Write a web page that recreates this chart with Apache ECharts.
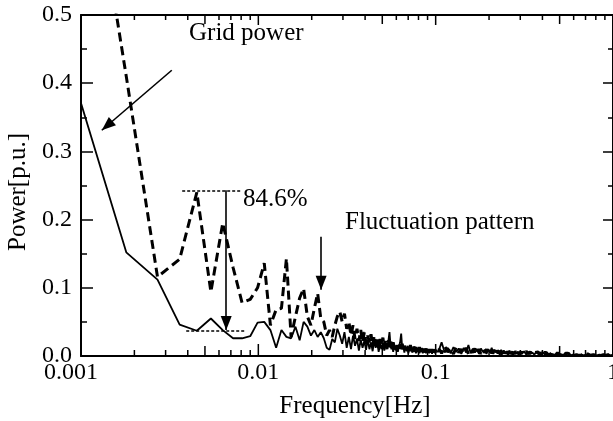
<!DOCTYPE html>
<html><head><meta charset="utf-8">
<script src="https://cdn.jsdelivr.net/npm/echarts@6/dist/echarts.min.js"></script>
<style>html,body{margin:0;padding:0;background:#fff}#c{width:613px;height:421px}</style>
</head><body><div id="c"></div>
<script>
// Frequency bins (Hz): low band every 0.0009 Hz, then coarser sampling of the dense tail
const lowStep = 0.0009, lowCount = 111;
const midStart = 0.1035, midStep = 0.0045, midCount = 44;
const highStart = 0.306, highStep = 0.009, highCount = 78;

// Fluctuation pattern spectrum (dashed)
const dashedLow = [0.9,0.41,0.116,0.142,0.24,0.094,0.195,0.13,0.078,0.083,0.10,0.136,0.045,0.068,0.07,0.143,0.028,0.058,0.085,0.099,0.058,0.045,0.07,0.092,0.055,
0.05,0.03,0.038,0.028,0.045,0.058,0.065,0.05,0.062,0.04,0.05,0.03,0.045,0.025,0.04,0.022,0.038,0.02,0.035,0.018,0.03,0.02,0.032,0.015,0.03,
0.018,0.028,0.012,0.025,0.015,0.027,0.012,0.022,0.01,0.025,0.013,0.022,0.01,0.02,0.012,0.018,0.008,0.02,0.011,0.017,0.009,0.018,0.008,0.015,0.01,
0.016,0.007,0.014,0.009,0.016,0.008,0.013,0.006,0.014,0.009,0.013,0.006,0.012,0.008,0.013,0.006,0.012,0.007,0.011,0.006,0.012,0.005,0.011,0.007,0.012,
0.005,0.01,0.006,0.011,0.005,0.01,0.006,0.011,0.005,0.009,0.006];
const dashedMid = [0.012,0.004,0.014,0.006,0.011,0.003,0.013,0.005,0.010,0.004,
0.012,0.003,0.009,0.005,0.011,0.004,0.010,0.003,0.009,0.005,
0.010,0.003,0.008,0.004,0.009,0.003,0.008,0.004,0.009,0.002,
0.007,0.004,0.008,0.002,0.007,0.003,0.008,0.002,0.006,0.003,
0.007,0.002,0.006,0.003];
const dashedHigh = [0.006,0.002,0.007,0.003,0.006,0.002,0.005,0.003,0.006,0.002,
0.005,0.002,0.006,0.003,0.005,0.002,0.005,0.002,0.004,0.002,
0.005,0.002,0.004,0.002,0.005,0.001,0.004,0.002,0.004,0.001,
0.004,0.002,0.004,0.001,0.003,0.002,0.004,0.001,0.003,0.001,
0.003,0.002,0.003,0.001,0.003,0.001,0.003,0.002,0.003,0.001,
0.003,0.001,0.002,0.001,0.003,0.001,0.002,0.001,0.002,0.001,
0.002,0.001,0.002,0.001,0.002,0.001,0.002,0.001,0.002,0.001,
0.002,0.001,0.002,0.001,0.002,0.001,0.002,0.001];

// Grid power spectrum (solid)
const solidLow = [0.41,0.152,0.112,0.046,0.037,0.055,0.038,0.026,0.026,0.029,0.049,0.05,0.038,0.012,0.038,0.028,0.026,0.043,0.023,0.05,0.043,0.03,0.038,0.028,0.035,
0.026,0.012,0.009,0.025,0.02,0.04,0.03,0.018,0.035,0.012,0.028,0.01,0.03,0.015,0.025,0.008,0.024,0.012,0.022,0.009,0.024,0.01,0.02,0.007,0.022,
0.012,0.02,0.006,0.018,0.01,0.02,0.008,0.016,0.012,0.02,0.035,0.012,0.018,0.006,0.015,0.009,0.016,0.006,0.014,0.02,0.033,0.01,0.014,0.005,0.013,
0.008,0.015,0.004,0.012,0.007,0.014,0.005,0.012,0.006,0.013,0.004,0.011,0.006,0.012,0.004,0.01,0.006,0.012,0.004,0.009,0.005,0.011,0.004,0.009,0.006,
0.01,0.004,0.009,0.005,0.01,0.003,0.009,0.005,0.008,0.004,0.009];
const solidMid = [0.006,0.020,0.005,0.012,0.004,0.013,0.006,0.011,0.003,0.012,
0.005,0.016,0.004,0.011,0.005,0.010,0.003,0.011,0.006,0.009,
0.003,0.010,0.005,0.012,0.003,0.009,0.005,0.008,0.002,0.009,
0.004,0.008,0.003,0.007,0.002,0.008,0.004,0.007,0.002,0.007,
0.003,0.006,0.002,0.006];
const solidHigh = [0.003,0.007,0.002,0.006,0.003,0.005,0.002,0.006,0.003,0.005,
0.002,0.005,0.002,0.006,0.002,0.004,0.003,0.005,0.002,0.004,
0.002,0.005,0.002,0.004,0.002,0.004,0.001,0.004,0.002,0.004,
0.001,0.003,0.002,0.004,0.001,0.003,0.002,0.003,0.001,0.003,
0.002,0.003,0.001,0.003,0.002,0.003,0.001,0.002,0.001,0.003,
0.001,0.002,0.001,0.002,0.001,0.002,0.001,0.002,0.001,0.002,
0.001,0.002,0.001,0.002,0.001,0.002,0.001,0.002,0.001,0.002,
0.001,0.002,0.001,0.002,0.001,0.002,0.001,0.002];

const xTickLabels = ['0.001','0.01','0.1','1'];
const yTickLabels = ['0.0','0.1','0.2','0.3','0.4','0.5'];

function bins(start, step, n){ const a=[]; for(let i=0;i<n;i++) a.push(+(start+i*step).toFixed(6)); return a; }
const freqs = [].concat(bins(lowStep, lowStep, lowCount), bins(midStart, midStep, midCount), bins(highStart, highStep, highCount));
const dashed = [].concat(dashedLow, dashedMid, dashedHigh);
const solid = [].concat(solidLow, solidMid, solidHigh);
const pair = (vals) => freqs.map((f,i)=>[f, vals[i]]);

// log-axis tick positions: decades, 5x (medium), others minor
const xTicks = [];
for (let e=-3; e<=0; e++) for (let m=1; m<=9; m++) {
  const v = +(m*Math.pow(10,e)).toPrecision(3);
  if (v>1) break;
  xTicks.push([v, 0, m===1?0:(m===5?1:2)]);
}

const FONT = 'Liberation Serif';
const chart = echarts.init(document.getElementById('c'), null, {renderer:'canvas'});
const arrowEnd = (a, b) => [
  {coord:a, symbol:'none'},
  {coord:b, symbol:'triangle', symbolSize:[11,14], symbolOffset:[0,7]}
];
chart.setOption({
  animation:false,
  grid:{left:81, right:0, top:15, bottom:65, outerBoundsMode:'none'},
  xAxis:[{
    type:'log', logBase:10, min:0.001, max:1, position:'bottom',
    axisLine:{onZero:false, lineStyle:{color:'#000', width:2}},
    axisTick:{show:false}, splitLine:{show:false}, minorTick:{show:false},
    axisLabel:{color:'#000', fontFamily:FONT, fontSize:24, margin:5,
      formatter:(v)=>{
        const s = xTickLabels.find(t=>Math.abs(Math.log10(+t)-Math.log10(v))<1e-6) || '';
        return s===xTickLabels[0] ? '{m|'+s+'}' : s;
      },
      rich:{m:{fontFamily:FONT, fontSize:24, color:'#000', padding:[0,20,0,0]}}
    },
    name:'Frequency[Hz]', nameLocation:'middle', nameGap:38,
    nameTextStyle:{color:'#000', fontFamily:FONT, fontSize:25, padding:[0,0,0,16]}
  },{
    type:'log', logBase:10, min:0.001, max:1, position:'top',
    axisLine:{onZero:false, lineStyle:{color:'#000', width:2}},
    axisTick:{show:false}, axisLabel:{show:false}, splitLine:{show:false}
  }],
  yAxis:[{
    type:'value', min:0, max:0.5, interval:0.1,
    axisLine:{show:true, onZero:false, lineStyle:{color:'#000', width:2}},
    axisTick:{show:true, inside:true, length:12, lineStyle:{color:'#000', width:1.5}},
    minorTick:{show:true, splitNumber:2, length:6, lineStyle:{color:'#000', width:1.5}},
    splitLine:{show:false},
    axisLabel:{color:'#000', fontFamily:FONT, fontSize:24, margin:9,
      formatter:(v)=>yTickLabels[Math.round(v*10)]},
    name:'Power[p.u.]', nameLocation:'middle', nameGap:50,
    nameTextStyle:{color:'#000', fontFamily:FONT, fontSize:25, padding:[0,13,0,0]}
  },{
    type:'value', min:0, max:0.5, interval:0.1, position:'right',
    axisLine:{show:true, onZero:false, lineStyle:{color:'#000', width:2}},
    axisTick:{show:true, inside:true, length:10, lineStyle:{color:'#000', width:1.5}},
    minorTick:{show:true, splitNumber:2, length:5, lineStyle:{color:'#000', width:1.5}},
    splitLine:{show:false}, axisLabel:{show:false}
  }],
  series:[{
    type:'line', name:'Fluctuation pattern', data:pair(dashed), showSymbol:false, symbol:'none',
    clip:true, lineStyle:{color:'#000', width:3, type:[9,5]}
  },{
    type:'line', name:'Grid power', data:pair(solid), showSymbol:false, symbol:'none',
    clip:true, lineStyle:{color:'#000', width:1.8},
    markLine:{
      silent:true, animation:false, label:{show:false}, symbol:['none','none'],
      lineStyle:{color:'#000', width:1.6, type:'solid'},
      itemStyle:{color:'#000'},
      data:[
        arrowEnd([0.00325,0.419],[0.00131,0.331]),
        arrowEnd([0.00659,0.243],[0.00659,0.038]),
        arrowEnd([0.0226,0.175],[0.0226,0.097]),
        [{coord:[0.00372,0.243], symbol:'none', lineStyle:{type:[3,2], width:1.5}},{coord:[0.00809,0.243], symbol:'none'}],
        [{coord:[0.00392,0.037], symbol:'none', lineStyle:{type:[3,2], width:1.5}},{coord:[0.00845,0.037], symbol:'none'}]
      ]
    }
  },{
    type:'custom', data:xTicks, encode:{x:0, y:1}, clip:false, silent:true, z:5,
    renderItem:(params, api)=>{
      const x = api.coord([api.value(0), 0])[0];
      const lvl = api.value(2);
      const cs = params.coordSys;
      const lb = lvl===0?12:(lvl===1?10:6);
      const lt = lvl===0?10:(lvl===1?9:5);
      const yb = cs.y+cs.height, yt = cs.y;
      return {type:'group', children:[
        {type:'line', shape:{x1:x,y1:yb,x2:x,y2:yb-lb}, style:{stroke:'#000', lineWidth:1.5}},
        {type:'line', shape:{x1:x,y1:yt,x2:x,y2:yt+lt}, style:{stroke:'#000', lineWidth:1.5}}
      ]};
    }
  }],
  graphic:[
    {type:'text', left:189, top:21, style:{text:'Grid power', fontFamily:FONT, fontSize:25, fill:'#000'}},
    {type:'text', left:243, top:187, style:{text:'84.6%', fontFamily:FONT, fontSize:25, fill:'#000'}},
    {type:'text', left:345, top:210, style:{text:'Fluctuation pattern', fontFamily:FONT, fontSize:25, fill:'#000'}}
  ]
});
</script></body></html>
